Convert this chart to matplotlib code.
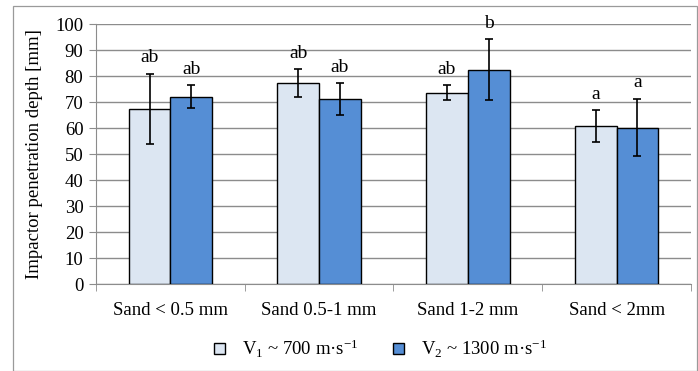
import numpy as np
import matplotlib
matplotlib.use("Agg")
import matplotlib.pyplot as plt
from matplotlib.patches import Rectangle

plt.rcParams['font.family'] = ['Liberation Serif', 'DejaVu Serif']
plt.rcParams['mathtext.fontset'] = 'custom'
plt.rcParams['mathtext.rm'] = 'Liberation Serif'
plt.rcParams['mathtext.it'] = 'Liberation Serif:italic'

# data
categories = ['Sand < 0.5 mm', 'Sand 0.5-1 mm', 'Sand 1-2 mm', 'Sand < 2mm']
v1_mean = [67.3, 77.3, 73.6, 60.7]
v1_err = [13.4, 5.3, 2.8, 6.1]
v2_mean = [72.1, 71.2, 82.4, 60.2]
v2_err = [4.3, 6.0, 11.7, 11.1]
v1_letters = ['ab', 'ab', 'ab', 'a']
v2_letters = ['ab', 'ab', 'b', 'a']
series_names = ['V$_1$ ~ 700 m·s$^{-1}$', 'V$_2$ ~ 1300 m·s$^{-1}$']

fig = plt.figure(figsize=(6.98, 3.71), dpi=100)
ax = fig.add_axes([0.1375, 0.2345, 0.8525, 0.7005])

# outer chart frame like the Excel chart area
fig.patches.append(Rectangle((13 / 698, 0.0), (697 - 13) / 698, 1 - 6 / 371,
                             transform=fig.transFigure, fill=False,
                             edgecolor='#9a9a9a', lw=0.9))

x = np.arange(len(categories))
w = 0.28
err_kw = dict(ecolor='black', elinewidth=1.2, capsize=3, capthick=1.2)
b1 = ax.bar(x - w / 2, v1_mean, w, yerr=v1_err, color='#dce6f2',
            edgecolor='black', lw=1.0, error_kw=err_kw, zorder=3,
            label=series_names[0])
b2 = ax.bar(x + w / 2, v2_mean, w, yerr=v2_err, color='#558ed5',
            edgecolor='black', lw=1.0, error_kw=err_kw, zorder=3,
            label=series_names[1])

# significance letters above error bars
for i in range(len(categories)):
    ax.text(x[i] - w / 2, v1_mean[i] + v1_err[i] + 3.0, v1_letters[i],
            ha='center', va='bottom', fontsize=14)
    ax.text(x[i] + w / 2, v2_mean[i] + v2_err[i] + 3.0, v2_letters[i],
            ha='center', va='bottom', fontsize=14)

ax.set_ylim(0, 100)
ax.set_xlim(-0.5, len(categories) - 0.5)
ax.set_yticks(np.arange(0, 101, 10))
ax.yaxis.grid(True, color='#8c8c8c', lw=1.0, zorder=0)
ax.set_axisbelow(True)
ax.set_ylabel('Impactor penetration depth [mm]', fontsize=13.5, labelpad=9)

ax.set_xticks(x)
ax.set_xticklabels(categories, fontsize=13.5)
ax.set_xticks(np.arange(-0.5, len(categories), 1.0), minor=True)
ax.tick_params(axis='x', which='major', length=0, pad=13)
ax.tick_params(axis='x', which='minor', length=5, color='#8c8c8c')
ax.tick_params(axis='y', length=5, color='#8c8c8c', labelsize=13.5, pad=4)

for s in ['top', 'right']:
    ax.spines[s].set_visible(False)
for s in ['left', 'bottom']:
    ax.spines[s].set_color('#8c8c8c')

fig.legend(handles=[b1, b2], loc='center', bbox_to_anchor=(0.545, 0.06),
           ncol=2, frameon=False, fontsize=13.5, handlelength=0.6,
           handleheight=0.6, columnspacing=1.8, handletextpad=0.9)

fig.savefig('out.png', dpi=100)
